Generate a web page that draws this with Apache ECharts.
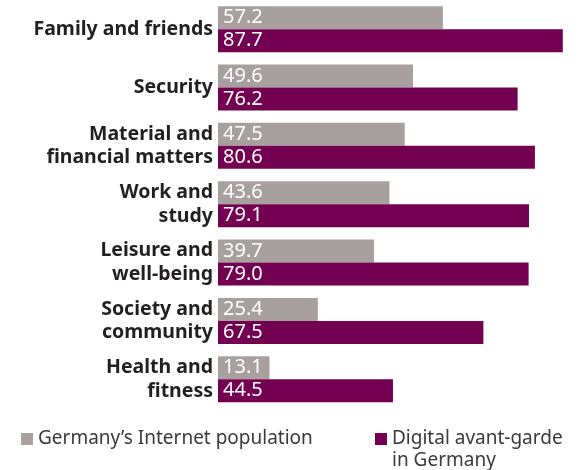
<!DOCTYPE html>
<html>
<head>
<meta charset="utf-8">
<script src="https://cdn.jsdelivr.net/npm/echarts@6/dist/echarts.min.js"></script>
<style>
  html, body { margin: 0; padding: 0; background: #fff; }
  #chart { width: 587px; height: 470px; }
</style>
</head>
<body>
<div id="chart"></div>
<script>
// categories, top to bottom
const categories = [
  'Family and friends',
  'Security',
  'Material and\nfinancial matters',
  'Work and\nstudy',
  'Leisure and\nwell-being',
  'Society and\ncommunity',
  'Health and\nfitness'
];
const internetPopulation = [57.2, 49.6, 47.5, 43.6, 39.7, 25.4, 13.1];
const avantGarde = [87.7, 76.2, 80.6, 79.1, 79.0, 67.5, 44.5];

const seriesNames = ['Germany’s Internet population', 'Digital avant-garde in Germany'];

document.addEventListener("DOMContentLoaded", () => {
    const myChart = echarts.init(document.getElementById('chart'));
    const font = 'Noto Sans';

    const valueLabel = {
        show: true,
        position: 'insideLeft',
        distance: 5,
        color: '#fff',
        fontFamily: font,
        fontSize: 20,
        formatter: p => p.value.toFixed(1)
    };

    const legendText = {
        color: '#3a3a3a',
        fontFamily: font,
        fontSize: 19,
        lineHeight: 22
    };

    const option = {
        animation: false,
        grid: { left: 218, right: 23, top: -3.4, height: 411.8, containLabel: false },
        xAxis: {
            type: 'value',
            min: 0,
            max: 88,
            show: false
        },
        yAxis: {
            type: 'category',
            data: categories,
            inverse: true,
            axisLine: { show: false },
            axisTick: { show: false },
            axisLabel: {
                margin: 5,
                color: '#231f20',
                fontFamily: font,
                fontWeight: 'bold',
                fontSize: 19.5,
                lineHeight: 23.5
            }
        },
        legend: [
            {
                data: [seriesNames[0]],
                left: 21,
                top: 428,
                padding: 0,
                icon: 'rect',
                itemWidth: 12,
                itemHeight: 12,
                textStyle: legendText
            },
            {
                data: [seriesNames[1]],
                left: 375,
                top: 406,
                padding: 0,
                icon: 'rect',
                itemWidth: 12,
                itemHeight: 12,
                // blank first line keeps the icon level with "Digital avant-garde"
                formatter: () => ' \nDigital avant-garde\nin Germany',
                textStyle: legendText
            }
        ],
        series: [
            {
                name: seriesNames[0],
                type: 'bar',
                data: internetPopulation,
                barWidth: 23,
                barGap: '0%',
                itemStyle: { color: '#a8a09e' },
                label: valueLabel
            },
            {
                name: seriesNames[1],
                type: 'bar',
                data: avantGarde,
                barWidth: 23,
                barGap: '0%',
                itemStyle: { color: '#730050' },
                label: valueLabel
            }
        ]
    };

    myChart.setOption(option);
    window.addEventListener("resize", () => myChart.resize());
});
</script>
</body>
</html>
